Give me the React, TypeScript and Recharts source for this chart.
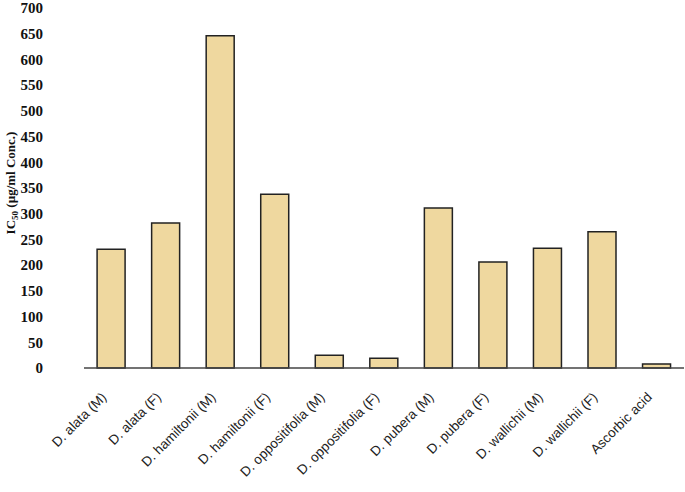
import { BarChart, Bar, XAxis, YAxis } from 'recharts';

const categories = [
  'D. alata (M)', 'D. alata (F)', 'D. hamiltonii (M)', 'D. hamiltonii (F)',
  'D. oppositifolia (M)', 'D. oppositifolia (F)', 'D. pubera  (M)', 'D. pubera  (F)',
  'D. wallichii (M)', 'D. wallichii (F)', 'Ascorbic acid',
];
const ic50 = [231, 282, 646, 338, 25, 19, 311, 206, 233, 265, 8];
const yTicks = [0, 50, 100, 150, 200, 250, 300, 350, 400, 450, 500, 550, 600, 650, 700];

const data = categories.map((name, i) => ({ name, value: ic50[i] }));

const XTick = (props: any) => {
  const { x, y, payload } = props;
  return (
    <g transform={`translate(${x - 4},${y + 22})`}>
      <text
        transform="rotate(-45)"
        textAnchor="end"
        fontSize={13.5}
        fontFamily="'Liberation Sans', Arial, sans-serif"
        fill="#222"
      >
        {payload.value}
      </text>
    </g>
  );
};

const YLabel = () => (
  <text
    transform="translate(15,183) rotate(-90)"
    textAnchor="middle"
    fontSize={13}
    fontWeight="bold"
    fontFamily="'Liberation Serif', 'Times New Roman', serif"
    fill="#111"
  >
    IC<tspan fontSize={9} dy={3}>50</tspan>
    <tspan dy={-3}>{' (µg/ml Conc.)'}</tspan>
  </text>
);

export default function App() {
  return (
    <div style={{ position: 'absolute', left: 0, top: 0, width: 685, height: 492, background: '#fff' }}>
      <BarChart
        width={685}
        height={492}
        data={data}
        margin={{ top: 8, right: 1, bottom: 0, left: 1 }}
        barCategoryGap="24%"
      >
        <XAxis
          dataKey="name"
          interval={0}
          tick={<XTick />}
          tickLine={false}
          axisLine={{ stroke: '#444', strokeWidth: 1.3 }}
          height={124}
        />
        <YAxis
          width={83}
          domain={[0, 700]}
          ticks={yTicks}
          interval={0}
          axisLine={false}
          tickLine={false}
          tick={{
            fontSize: 15,
            fontWeight: 'bold',
            fill: '#111',
            fontFamily: "'Liberation Serif', 'Times New Roman', serif",
            dx: -33,
          }}
          label={<YLabel />}
        />
        <Bar
          dataKey="value"
          fill="#EFD89F"
          stroke="#222"
          strokeWidth={1.5}
          isAnimationActive={false}
        />
      </BarChart>
    </div>
  );
}
